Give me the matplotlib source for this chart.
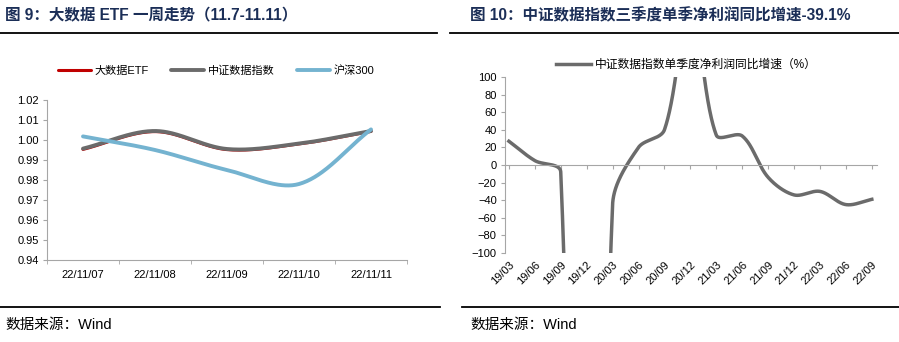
import numpy as np
import matplotlib
matplotlib.use('Agg')
import matplotlib.pyplot as plt
from matplotlib.lines import Line2D

plt.rcParams['font.family'] = ['Liberation Sans', 'Noto Sans CJK SC']

# left chart: one week trend
days = ['22/11/07', '22/11/08', '22/11/09', '22/11/10', '22/11/11']
etf = [0.9953, 1.0042, 0.9952, 0.9980, 1.0043]
csi_data = [0.9957, 1.0045, 0.9955, 0.9982, 1.0045]
hs300 = [1.0018, 0.9950, 0.9850, 0.9780, 1.0053]

# right chart: quarterly net profit yoy (%), off-scale values estimated
quarters = ['19/03', '19/06', '19/09', '19/12', '20/03', '20/06', '20/09', '20/12',
            '21/03', '21/06', '21/09', '21/12', '22/03', '22/06', '22/09']
profit_yoy = [27, 5, -8, -1400, -45, 20, 40, 190, 34, 33, -14, -34, -30, -45, -39]

W, H = 899, 342
axis_gray = '#A6A6A6'
title_color = '#1B2E57'


def smooth(ax, xs, ys, n=60):
    # excel-like smoothed line, computed in pixel space
    pts = ax.transData.transform(np.column_stack([xs, ys]).astype(float))
    out = [pts[0]]
    m = len(pts)
    t = np.linspace(0, 1, n)[1:, None]
    for i in range(m - 1):
        p0 = pts[max(i - 1, 0)]
        p1 = pts[i]
        p2 = pts[i + 1]
        p3 = pts[min(i + 2, m - 1)]
        d01 = np.hypot(*(p1 - p0))
        d12 = np.hypot(*(p2 - p1))
        d23 = np.hypot(*(p3 - p2))
        c1 = p1 + (p2 - p0) * (d12 / (d01 + d12)) / 3
        c2 = p2 - (p3 - p1) * (d12 / (d12 + d23)) / 3
        seg = (1 - t) ** 3 * p1 + 3 * (1 - t) ** 2 * t * c1 + 3 * (1 - t) * t ** 2 * c2 + t ** 3 * p2
        out.extend(seg)
    xy = ax.transData.inverted().transform(np.array(out))
    return xy[:, 0], xy[:, 1]


fig = plt.figure(figsize=(W / 100, H / 100), dpi=100)

# ---- left chart ----
ax1 = fig.add_axes([47 / W, 1 - 260 / H, 360 / W, 160 / H])
ax1.set_xlim(-0.5, 4.5)
ax1.set_ylim(0.94, 1.02)
x1 = np.arange(len(days))
lines1 = []
for vals, col, lw, lab in [(etf, '#C00000', 2.2, '大数据ETF'),
                           (csi_data, '#6B6B6B', 2.8, '中证数据指数'),
                           (hs300, '#74B3D0', 2.8, '沪深300')]:
    sx, sy = smooth(ax1, x1, vals)
    ln, = ax1.plot(sx, sy, color=col, lw=lw, solid_capstyle='round', label=lab)
    lines1.append(ln)

ax1.set_yticks(np.arange(0.94, 1.0201, 0.01))
ax1.set_yticklabels(['%.2f' % v for v in np.arange(0.94, 1.0201, 0.01)])
ax1.set_xticks(x1)
ax1.set_xticklabels(days)
ax1.set_xticks(np.arange(-0.5, 4.6, 1), minor=True)
ax1.tick_params(axis='x', which='major', length=0, pad=7, labelsize=8)
ax1.tick_params(axis='x', which='minor', length=3, direction='out', color=axis_gray)
ax1.tick_params(axis='y', length=3, direction='out', color=axis_gray, labelsize=8, pad=3)
for s in ['top', 'right']:
    ax1.spines[s].set_visible(False)
for s in ['left', 'bottom']:
    ax1.spines[s].set_color(axis_gray)
    ax1.spines[s].set_linewidth(0.8)

ax1.legend(handles=lines1, loc='center left', bbox_to_anchor=(58 / W, 1 - 71 / H),
           bbox_transform=fig.transFigure, ncol=3, frameon=False, fontsize=8,
           handlelength=3, handletextpad=0.3, columnspacing=2.0,
           borderpad=0, borderaxespad=0)

# ---- right chart ----
ax2 = fig.add_axes([505 / W, 1 - 253 / H, 372 / W, 176 / H])
ax2.set_xlim(-0.15, 14.2)
ax2.set_ylim(-100, 100)
x2 = np.arange(len(quarters))
sx, sy = smooth(ax2, x2, profit_yoy, n=200)
ln2, = ax2.plot(sx, sy, color='#6B6B6B', lw=2.5, label='中证数据指数单季度净利润同比增速（%）')

ax2.set_yticks(np.arange(-100, 101, 20))
ax2.tick_params(axis='y', length=3, direction='out', color=axis_gray, labelsize=8, pad=3)
ax2.spines['bottom'].set_position(('data', 0))
ax2.set_xticks(x2)
ax2.tick_params(axis='x', length=3, direction='out', color=axis_gray, labelbottom=False)
for s in ['top', 'right']:
    ax2.spines[s].set_visible(False)
for s in ['left', 'bottom']:
    ax2.spines[s].set_color(axis_gray)
    ax2.spines[s].set_linewidth(0.8)

sec = ax2.secondary_xaxis(0)
sec.set_xticks(x2)
sec.set_xticklabels(quarters, rotation=45, ha='right', rotation_mode='anchor', fontsize=8)
sec.tick_params(length=0, pad=5)
sec.spines['bottom'].set_visible(False)

ax2.legend(handles=[ln2], loc='center left', bbox_to_anchor=(556 / W, 1 - 65 / H),
           bbox_transform=fig.transFigure, frameon=False, fontsize=8.5,
           handlelength=3, handletextpad=0.3, borderpad=0, borderaxespad=0)

# ---- titles, rules, sources ----
fig.text(5 / W, 1 - 16 / H, '图 9：大数据 ETF 一周走势（11.7-11.11）', fontsize=11.2,
         fontweight='bold', color=title_color, va='center')
fig.text(470 / W, 1 - 16 / H, '图 10：中证数据指数三季度单季净利润同比增速-39.1%', fontsize=11.2,
         fontweight='bold', color=title_color, va='center')
for x0, x1_, y in [(0, 437, 33), (450, 899, 33), (0, 440, 307), (462, 899, 307)]:
    fig.add_artist(Line2D([x0 / W, x1_ / W], [1 - y / H, 1 - y / H], color='black', lw=1.3,
                          transform=fig.transFigure))
fig.text(5 / W, 1 - 325 / H, '数据来源：Wind', fontsize=10.5, va='center')
fig.text(470 / W, 1 - 325 / H, '数据来源：Wind', fontsize=10.5, va='center')

fig.savefig('out.png', dpi=100)
